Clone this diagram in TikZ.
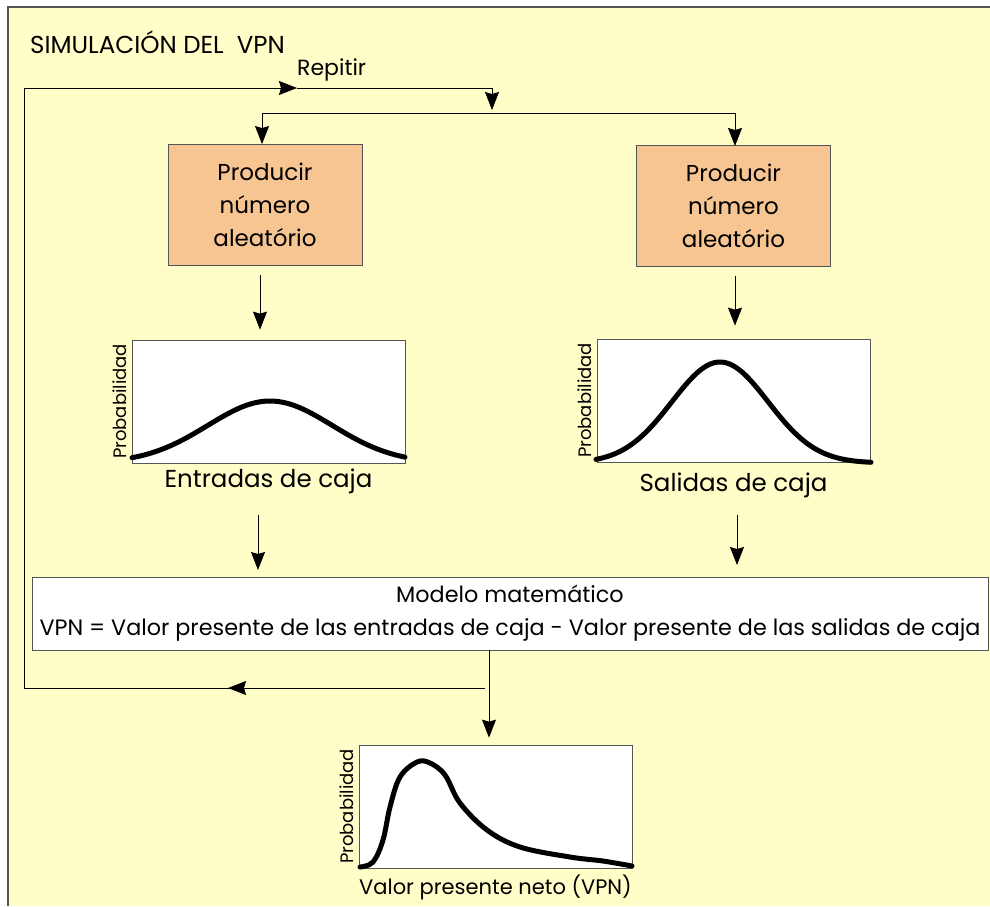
\documentclass[tikz,border=0pt]{standalone}
\usepackage{fontspec}
\setmainfont{Poppins}
\usetikzlibrary{arrows.meta}
\definecolor{fondo}{HTML}{FFFDC8}
\definecolor{caja}{HTML}{F6C592}
\definecolor{borde}{HTML}{555555}
\tikzset{
  flecha/.style={-{Stealth[length=18pt,width=14pt,inset=2pt]}},
  linea/.style={line width=.9pt},
  prod/.style={draw=borde,fill=caja,line width=.9pt,minimum width=194pt,minimum height=121pt,align=center,
    font=\fontsize{23}{33}\selectfont},
  grafica/.style={draw=borde,fill=white,line width=.7pt,minimum width=273pt,minimum height=123pt,inner sep=0pt},
  curva/.style={line width=5pt,line cap=round,line join=round},
  eje/.style={rotate=90,anchor=south,inner sep=4.5pt,font=\fontsize{18}{20}\selectfont},
  etiqueta/.style={inner sep=0pt,font=\fontsize{24.5}{28}\selectfont}
}
\begin{document}
\begin{tikzpicture}[x=1pt,y=-1pt]
  \useasboundingbox (0,0) rectangle (990,906);
  % fondo y marco
  \fill[fondo] (8,7) rectangle (990,906);
  \draw[borde,line width=1.5pt] (8,906) -- (8,7) -- (990,7);
  \node[anchor=west,inner sep=0pt,font=\fontsize{24.5}{28}\selectfont] (titulo) at (30,42) {SIMULACIÓN DEL\ \ VPN};
  \node[anchor=west,inner sep=0pt,font=\fontsize{22}{26}\selectfont] (repetir) at (297,70) {Repitir};
  % generadores
  \node[prod] (prod1) at (265,205) {Producir\\número\\aleatório};
  \node[prod] (prod2) at (733.5,206) {Producir\\número\\aleatório};
  % distribuciones de entrada
  \node[grafica] (graf1) at (268.5,401.5) {};
  \node[grafica] (graf2) at (733.5,400.5) {};
  \node[eje] at (graf1.west) {Probabilidad};
  \node[eje] at (graf2.west) {Probabilidad};
  \node[etiqueta] (ent) at ([yshift=-18pt]graf1.south) {Entradas de caja};
  \node[etiqueta] (sal) at ([yshift=-23pt]graf2.south) {Salidas de caja};
  \draw[curva] plot[domain=132:405,samples=80] (\x,{463-62*exp(-((\x-270)/88)^2)});
  \draw[curva] plot[domain=596:871,samples=80] (\x,{463-101*exp(-((\x-720)/68)^2)});
  % modelo
  \node[draw=borde,fill=white,line width=.7pt,minimum width=956pt,minimum height=73pt,inner sep=0pt,align=center,
    font=\fontsize{22.3}{33}\selectfont] (modelo) at (510,613.5)
    {Modelo matemático\\VPN = Valor presente de las entradas de caja - Valor presente de las salidas de caja};
  % resultado
  \node[grafica] (graf3) at (495.5,806.5) {};
  \node[eje] at (graf3.west) {Probabilidad};
  \node[etiqueta,font=\fontsize{21}{24}\selectfont] (vpn) at ([yshift=-19pt]graf3.south) {Valor presente neto (VPN)};
  \draw[curva] plot[smooth,tension=.6] coordinates {(360,867) (373,862) (383,840) (390,807) (400,777)
    (417,762) (430,763) (445,775) (460,803) (487,830) (520,847) (570,857) (603,861) (632,866)};
  % lazo de repeticion
  \coordinate (arriba) at (24,88);
  \coordinate (abajo) at (24,688);
  \coordinate (rama) at (492,88);
  \coordinate (reparto) at (262,113);
  \coordinate (salida) at (489,688);
  \draw[linea,flecha] (arriba) -- (297,88);
  \draw[linea] (297,88) -- (rama);
  \draw[linea,flecha] (rama) -- (492,110);
  \draw[linea] (reparto) -- (735,113);
  \draw[linea,flecha] (reparto) -- (reparto |- prod1.north);
  \draw[linea,flecha] (735,113) -- (735,146);
  \draw[linea,flecha] ([xshift=-5pt,yshift=-9pt]prod1.south) -- ([xshift=-5pt,yshift=10pt]prod1.south |- graf1.north);
  \draw[linea,flecha] ([xshift=1.5pt,yshift=-9pt]prod2.south) -- ([xshift=1.5pt,yshift=13pt]prod2.south |- graf2.north);
  \draw[linea,flecha] (258,515) -- (258,570);
  \draw[linea,flecha] (737,515) -- (737,565);
  \draw[linea] (salida |- modelo.south) -- (salida);
  \draw[linea,flecha] (salida) -- ([yshift=7pt]salida |- graf3.north);
  \draw[linea,flecha] ([xshift=-4pt]salida) -- (228,688);
  \draw[linea] (230,688) -- (abajo) -- (arriba);
\end{tikzpicture}
\end{document}
